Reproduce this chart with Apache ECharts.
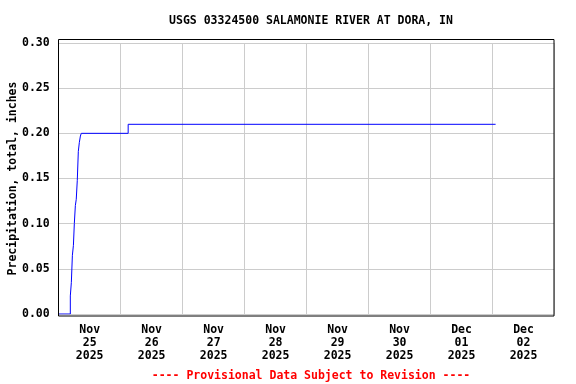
<!DOCTYPE html>
<html>
<head>
<meta charset="utf-8">
<script src="https://cdn.jsdelivr.net/npm/echarts@6/dist/echarts.min.js"></script>
<style>html,body{margin:0;padding:0;background:#fff}#c{width:576px;height:384px}</style>
</head>
<body>
<div id="c"></div>
<script>
// Hours since Nov 25 2025 00:00 and cumulative precipitation (inches)
const hours = [0, 4.5, 4.9, 5.3, 5.7, 6.05, 6.45, 6.8, 7.2, 7.6, 8.0, 8.4, 8.75, 26.9, 169.2];
const precip = [0, 0.02, 0.035, 0.065, 0.076, 0.10, 0.12, 0.127, 0.148, 0.18, 0.19, 0.197, 0.20, 0.21, 0.21];
// Day labels (centered at noon of each day)
const dayLabels = ["Nov\n25\n2025", "Nov\n26\n2025", "Nov\n27\n2025", "Nov\n28\n2025",
                   "Nov\n29\n2025", "Nov\n30\n2025", "Dec\n01\n2025", "Dec\n02\n2025"];
const labelHours = [12, 36, 60, 84, 108, 132, 156, 180];
const yTicks = [0, 0.05, 0.10, 0.15, 0.20, 0.25, 0.30];
const titleText = "USGS 03324500 SALAMONIE RIVER AT DORA, IN";
const yName = "Precipitation, total, inches";
const footer = "---- Provisional Data Subject to Revision ----";

const FONT = "DejaVu Sans Mono";
const chart = echarts.init(document.getElementById('c'));
const labelMap = {};
labelHours.forEach((h, i) => labelMap[h] = dayLabels[i]);

chart.setOption({
  animation: false,
  backgroundColor: '#fff',
  title: [{
    text: titleText, left: 306, textAlign: 'center', top: 10,
    textStyle: {fontFamily: FONT, fontWeight: 'bold', fontSize: 11.5, color: '#000'}
  }, {
    text: footer, left: 306, textAlign: 'center', top: 365,
    textStyle: {fontFamily: FONT, fontWeight: 'bold', fontSize: 11.5, color: '#ff0000'}
  }],
  grid: {left: 58.7, right: 21.5, top: 43, bottom: 70, containLabel: false, outerBoundsMode: 'none'},
  xAxis: {
    type: 'value', min: 0, max: 192, interval: 24,
    axisLine: {show: false}, axisTick: {show: false},
    splitLine: {show: true, lineStyle: {color: '#cccccc', width: 1}},
    axisLabel: {
      customValues: labelHours,
      formatter: v => labelMap[v] || '',
      fontFamily: FONT, fontWeight: 'bold', fontSize: 11.5, color: '#000',
      lineHeight: 13, margin: 10
    }
  },
  yAxis: {
    type: 'value', min: 0, max: 0.30, interval: 0.05,
    name: yName, nameLocation: 'middle', nameGap: 40, nameRotate: 90,
    nameMoveOverlap: false,
    nameTextStyle: {fontFamily: FONT, fontWeight: 'bold', fontSize: 11.5, color: '#000'},
    axisLine: {show: false},
    axisTick: {show: false},
    splitLine: {show: true, lineStyle: {color: '#cccccc', width: 1}},
    axisLabel: {
      formatter: v => v.toFixed(2),
      fontFamily: FONT, fontWeight: 'bold', fontSize: 11.5, color: '#000', margin: 9
    }
  },
  graphic: [{
    type: 'rect', silent: true, z: 100,
    shape: {x: 58.5, y: 39.5, width: 495.5, height: 276.5},
    style: {fill: 'none', stroke: '#000', lineWidth: 1}
  }],
  series: [{
    type: 'line', step: 'end', showSymbol: false,
    data: hours.map((h, i) => [h, precip[i]]),
    lineStyle: {color: '#0000ff', width: 1},
    itemStyle: {color: '#0000ff'}
  }]
});
</script>
</body>
</html>
